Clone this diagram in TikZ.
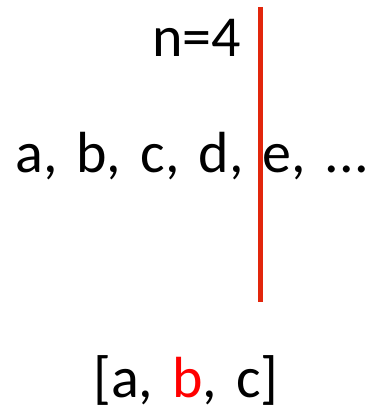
\documentclass[tikz,border=0pt]{standalone}
\usepackage{fontspec}
\setmainfont[WordSpace=1.45]{Carlito}
\definecolor{lineRed}{RGB}{226,38,12}
\begin{document}
\begin{tikzpicture}[x=1pt,y=-1pt,
  txt/.style={inner sep=0pt,font=\fontsize{58}{60}\selectfont}]
\useasboundingbox (0,0) rectangle (376,411);
\node[txt,anchor=base east] (n) at (241,57) {n=4};
\node[txt,anchor=base] (seq) at (192,173) {a, b, c, d, e, ...};
\node[txt,anchor=base] (res) at (186,397) {[a, \textcolor{red}{b}, c]};
\coordinate (top) at (260.5,7);
\coordinate (bot) at (260.5,302);
\draw[lineRed,line width=4.5pt] (top) -- (bot);
\end{tikzpicture}
\end{document}
